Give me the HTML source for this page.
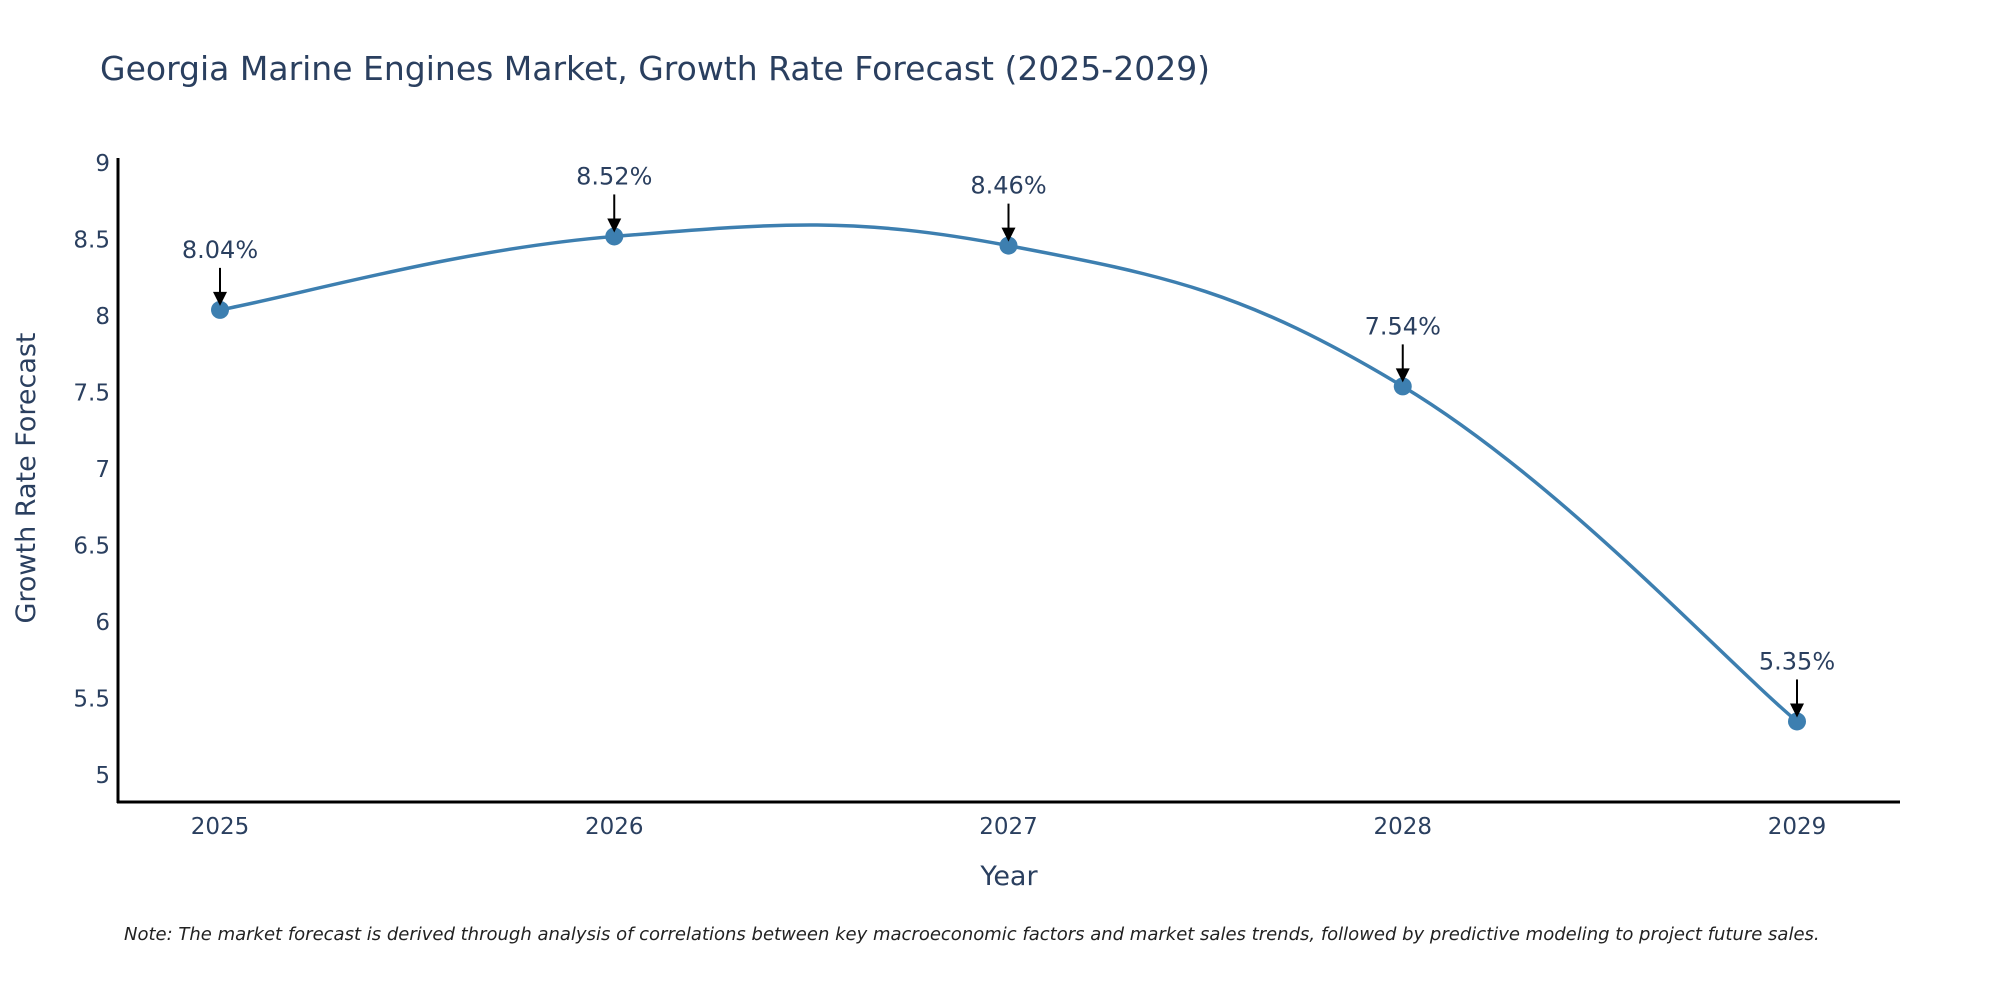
<!DOCTYPE html>
<html><head><meta charset="utf-8"><style>
body{margin:0;background:#fff;}
svg text{font-family:"DejaVu Sans","Liberation Sans",sans-serif;fill:#2a3f5f;}
</style></head><body>
<svg width="2000" height="1000" viewBox="0 0 2000 1000" xmlns="http://www.w3.org/2000/svg">
<text x="100" y="80" font-size="33">Georgia Marine Engines Market, Growth Rate Forecast (2025-2029)</text>
<g id="yticks"></g>
<g id="xticks"></g>
<line x1="118" y1="158" x2="118" y2="803" stroke="#000" stroke-width="3"/>
<line x1="117" y1="802" x2="1900" y2="802" stroke="#000" stroke-width="3"/>
<path id="curve" fill="none" stroke="#3d7fb0" stroke-width="3.5"/>
<g id="points"></g>
<text x="1009" y="885" font-size="27" text-anchor="middle">Year</text>
<text transform="translate(35,478) rotate(-90)" font-size="27" text-anchor="middle">Growth Rate Forecast</text>
<text x="124" y="940" font-size="18" font-style="italic" style="fill:#222">Note: The market forecast is derived through analysis of correlations between key macroeconomic factors and market sales trends, followed by predictive modeling to project future sales.</text>
</svg>
<script>
const years=["2025","2026","2027","2028","2029"];
const values=[8.04,8.52,8.46,7.54,5.35];
const labels=["8.04%","8.52%","8.46%","7.54%","5.35%"];
const yTicks=[5,5.5,6,6.5,7,7.5,8,8.5,9];
const NS="http://www.w3.org/2000/svg";
const xs=i=>220+i*394.25;
const ys=v=>163+(9-v)*153;
function mk(t,a,p){const e=document.createElementNS(NS,t);for(const k in a)e.setAttribute(k,a[k]);p.appendChild(e);return e;}
const yg=document.getElementById('yticks');
yTicks.forEach(v=>{const t=mk('text',{x:110,y:ys(v)+8,'font-size':23,'text-anchor':'end'},yg);t.textContent=String(v);

});
const xg=document.getElementById('xticks');
years.forEach((y,i)=>{const t=mk('text',{x:xs(i),y:834,'font-size':23,'text-anchor':'middle'},xg);t.textContent=y;

});
const P=values.map((v,i)=>[xs(i),ys(v)]);
let d=`M${P[0][0]},${P[0][1]}`;
const K=1/5;
for(let i=0;i<P.length-1;i++){
 const p0=P[Math.max(0,i-1)],p1=P[i],p2=P[i+1],p3=P[Math.min(P.length-1,i+2)];
 const c1=[p1[0]+(p2[0]-p0[0])*K,p1[1]+(p2[1]-p0[1])*K];
 const c2=[p2[0]-(p3[0]-p1[0])*K,p2[1]-(p3[1]-p1[1])*K];
 d+=` C${c1[0]},${c1[1]} ${c2[0]},${c2[1]} ${p2[0]},${p2[1]}`;
}
document.getElementById('curve').setAttribute('d',d);
const pg=document.getElementById('points');
P.forEach((p,i)=>{
 const c=mk('circle',{cx:p[0],cy:p[1],r:9,fill:'#3d7fb0'},pg);
 
 
 const l=mk('line',{x1:p[0],y1:p[1]-42,x2:p[0],y2:p[1]-16,stroke:'#000','stroke-width':2},pg);
 
 
 const h=mk('polygon',{points:`${p[0]-7},${p[1]-18} ${p[0]+7},${p[1]-18} ${p[0]},${p[1]-4}`,fill:'#000'},pg);
 
 
 const t=mk('text',{x:p[0],y:p[1]-52,'font-size':24,'text-anchor':'middle'},pg);
 t.textContent=labels[i];
 
 
});
</script>
</body></html>
